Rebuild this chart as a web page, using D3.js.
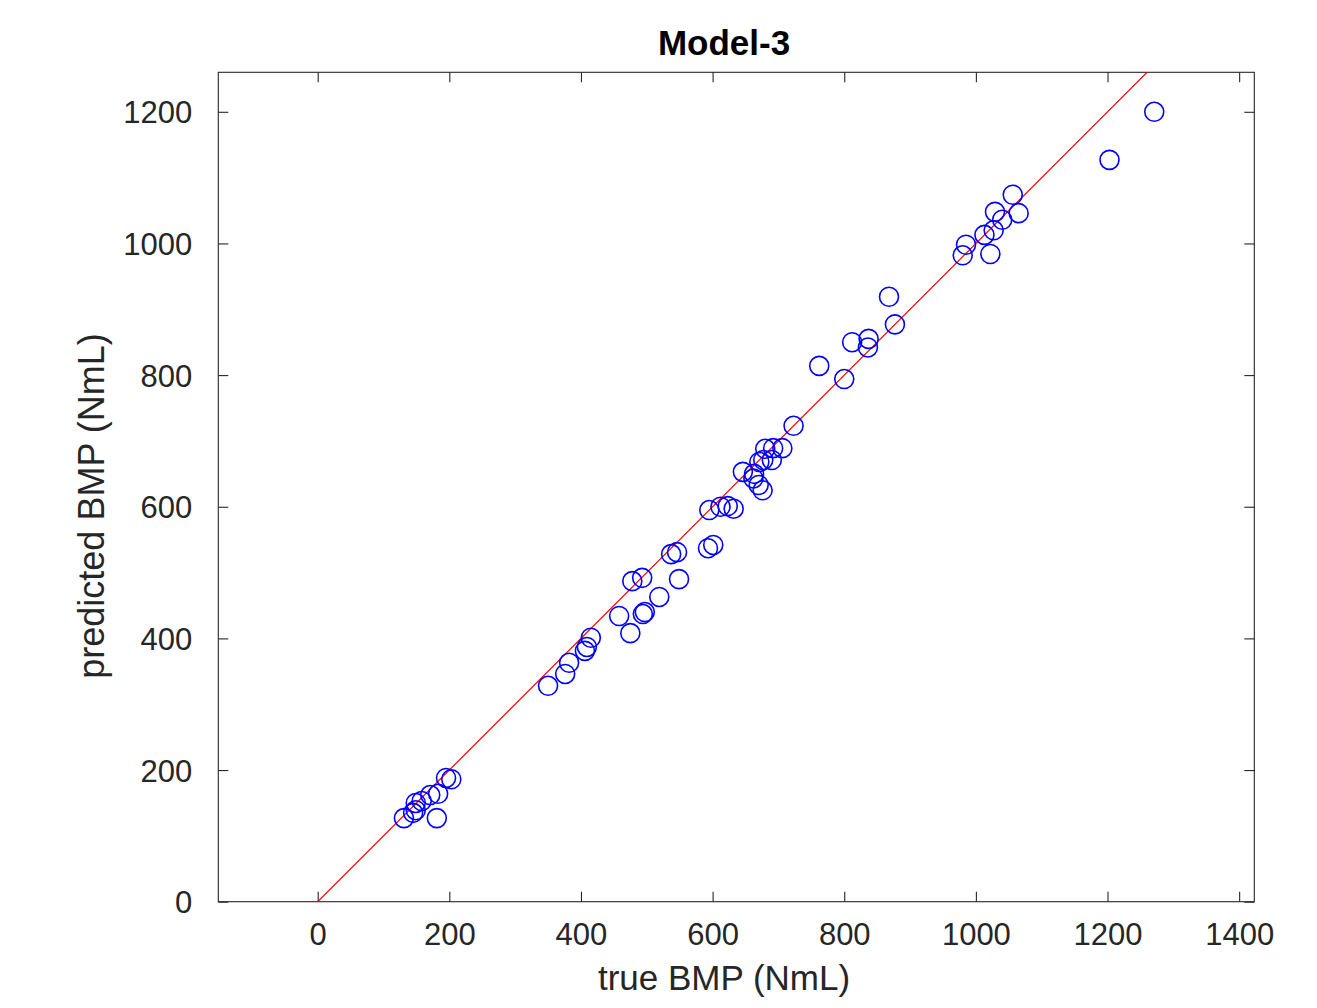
<!DOCTYPE html>
<html>
<head>
<meta charset="utf-8">
<script src="https://cdn.jsdelivr.net/npm/d3@7"></script>
<style>
  html, body { margin: 0; padding: 0; background: #ffffff; }
  svg { display: block; }
  text { font-family: "Liberation Sans", Arial, Helvetica, sans-serif; }
</style>
</head>
<body>
<svg id="chart" width="1317" height="1008"></svg>
<script>
// Measured vs. predicted biomethane potential (NmL)
const trueBMP = [
  131, 145, 149, 149, 158, 171, 183, 195, 203, 181,
  350, 376, 382, 406, 409, 415, 458, 475, 494, 497,
  519, 478, 493, 549, 537, 546, 593, 601, 595, 612,
  623, 632, 646, 663, 662, 671, 677, 670, 676, 680,
  690, 692, 706, 723, 868, 877, 812, 837, 836, 762,
  800, 1056, 1065, 1029, 1040, 1027, 1013, 985, 980, 1022,
  1203, 1271
];
const predBMP = [
  127, 135, 150, 139, 153, 162, 164, 188, 186, 127,
  328, 346, 363, 381, 387, 401, 434, 408, 437, 440,
  463, 487, 492, 490, 528, 531, 537, 542, 595, 600,
  601, 597, 653, 650, 643, 668, 671, 633, 625, 688,
  671, 689, 689, 723, 919, 877, 850, 855, 842, 814,
  794, 1074, 1046, 1048, 1036, 1020, 1013, 998, 982, 984,
  1127, 1200
];
// Identity reference line y = x
const refLine = [0, 1400];

const xTicks = [0, 200, 400, 600, 800, 1000, 1200, 1400];
const yTicks = [0, 200, 400, 600, 800, 1000, 1200];
const xDomain = [-151, 1423];
const yDomain = [0, 1260];

const titleText = "Model-3";
const xLabelText = "true BMP (NmL)";
const yLabelText = "predicted BMP (NmL)";

const box = { left: 218.3, right: 1254.3, top: 72.3, bottom: 901.7 };
const axisColor = "#262626";
const tickLen = 10;

const svg = d3.select("#chart");

const x = d3.scaleLinear().domain(xDomain).range([box.left, box.right]);
const y = d3.scaleLinear().domain(yDomain).range([box.bottom, box.top]);

svg.append("defs").append("clipPath").attr("id", "plotClip")
  .append("rect")
  .attr("x", box.left).attr("y", box.top)
  .attr("width", box.right - box.left).attr("height", box.bottom - box.top);

// Axes: ticks point inward on all four sides
const axisBottom = d3.axisBottom(x).tickValues(xTicks).tickSize(-tickLen).tickPadding(21).tickFormat(d3.format("d"));
const axisTop = d3.axisTop(x).tickValues(xTicks).tickSize(-tickLen).tickFormat("");
const axisLeft = d3.axisLeft(y).tickValues(yTicks).tickSize(-tickLen).tickPadding(26).tickFormat(d3.format("d"));
const axisRight = d3.axisRight(y).tickValues(yTicks).tickSize(-tickLen).tickFormat("");

function styleAxis(g) {
  g.select(".domain").remove();
  g.selectAll(".tick line").attr("stroke", axisColor).attr("stroke-width", 1.1);
  g.selectAll(".tick text")
    .attr("fill", axisColor)
    .style("font-size", "31px")
    .style("font-family", '"Liberation Sans", Arial, Helvetica, sans-serif');
}

svg.append("g").attr("transform", `translate(0,${box.bottom})`).call(axisBottom).call(styleAxis)
  .selectAll(".tick text").attr("dy", "0.71em");
svg.append("g").attr("transform", `translate(0,${box.top})`).call(axisTop).call(styleAxis);
svg.append("g").attr("transform", `translate(${box.left},0)`).call(axisLeft).call(styleAxis)
  .selectAll(".tick text").attr("dy", "0.36em");
svg.append("g").attr("transform", `translate(${box.right},0)`).call(axisRight).call(styleAxis);

// Plot frame
svg.append("rect")
  .attr("x", box.left).attr("y", box.top)
  .attr("width", box.right - box.left).attr("height", box.bottom - box.top)
  .attr("fill", "none").attr("stroke", axisColor).attr("stroke-width", 1.1);

const plot = svg.append("g").attr("clip-path", "url(#plotClip)");

// Red identity line
plot.append("line")
  .attr("x1", x(refLine[0])).attr("y1", y(refLine[0]))
  .attr("x2", x(refLine[1])).attr("y2", y(refLine[1]))
  .attr("stroke", "#ff0000").attr("stroke-width", 1.2);

// Blue open circle markers
plot.selectAll("circle.pt")
  .data(trueBMP.map((t, i) => ({ t, p: predBMP[i] })))
  .join("circle")
  .attr("class", "pt")
  .attr("cx", d => x(d.t))
  .attr("cy", d => y(d.p))
  .attr("r", 9.5)
  .attr("fill", "none")
  .attr("stroke", "#0000ff")
  .attr("stroke-width", 1.6);

// Title and axis labels
svg.append("text")
  .attr("x", 724).attr("y", 55)
  .attr("text-anchor", "middle")
  .style("font-size", "35px").style("font-weight", "bold")
  .attr("fill", "#000000")
  .text(titleText);

svg.append("text")
  .attr("x", 724).attr("y", 990)
  .attr("text-anchor", "middle")
  .style("font-size", "35px")
  .attr("fill", axisColor)
  .text(xLabelText);

svg.append("text")
  .attr("transform", "translate(104,506) rotate(-90)")
  .attr("text-anchor", "middle")
  .style("font-size", "36px")
  .attr("fill", axisColor)
  .text(yLabelText);
</script>
</body>
</html>
